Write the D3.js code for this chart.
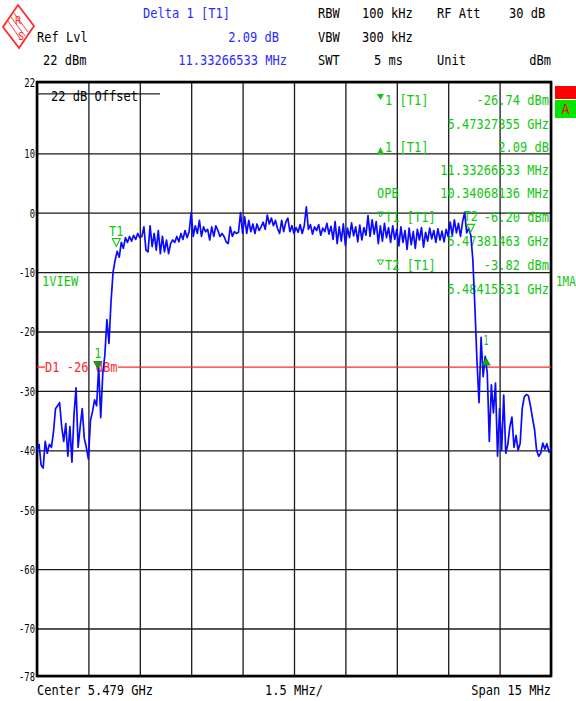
<!DOCTYPE html>
<html>
<head>
<meta charset="utf-8">
<script src="https://cdn.jsdelivr.net/npm/d3@7"></script>
<style>
  body { margin: 0; background: #fff; }
  text { font-family: "DejaVu Sans Mono", "Liberation Mono", monospace; }
</style>
</head>
<body>
<div id="graphic"></div>
<script>
// Sweep settings (MHz relative to centre)
var CENTER_GHZ = 5.479;
var SPAN_MHZ = 15;
var TRACE_START = -7.5;
var TRACE_STEP = 0.06;

// Level axis
var Y_TICKS = [22, 10, 0, -10, -20, -30, -40, -50, -60, -70, -78];
var X_DIVS = [-7.5, -6, -4.5, -3, -1.5, 0, 1.5, 3, 4.5, 6, 7.5];
var DISPLAY_LINE = -26;

// Trace, dBm, one value every TRACE_STEP MHz
var TRACE_DBM = [
	-40, -39, -42.5, -43, -38.5, -40.5, -39, -39.5, -37, -33,
	-32.5, -32, -36, -38.5, -35.5, -41, -36, -42, -34, -29.5,
	-39.5, -36, -33, -38, -39.5, -41.5, -35, -33.5, -31.5, -32.5,
	-26, -34.5, -27, -24, -18, -22, -15, -10, -8, -6.5,
	-7.5, -5, -6, -4.2, -5, -4, -4.8, -3.8, -4.5, -3.5,
	-4.2,
	-4, -2.4, -6.3, -6.6, -2.2, -5.7, -3.5, -6.3, -3, -6.9,
	-4, -6.6, -4.6, -6.9, -5.2, -4.6, -5, -4, -4.9, -3.5,
	-4.5, -3, -4.2, -3.2, 0, -4, -2.2, -3.5, -1.3, -4,
	-2.4, -3.2, -2.8, -4.6, -2.4, -4, -2.2, -3, -4, -3.5,
	-4, -4.9, -5.2, -2.4, -4, -3.2, -3.5, -3.3, 0, -3.5,
	-0.7, -3.5, -1.3, -3.2, -1.9, -3.5, -1.9, -3, -2.4, -1.6,
	-2.8, -0.4, -1.9, -0.9, -2.2, -1.3, -2.7, -3.5, -1.3, -3.2,
	-1.6, -0.9, -3.2, -2.2, -3.5,
	-2.5, -3.3, -2, -3.5, -2.2, 1, -2.8, -2, -3.6, -2.4,
	-3, -2, -3.8, -2.6, -3.2, -1.8, -3.6, -2.3, -4.5, -1.5,
	-5.2, -2.4, -4.8, -1.9, -5.5, -2.6, -4.2, -1.7, -3.9, -2.4,
	-4.9, -2.1, -4.6, -2.5, -3.8, -0.5, -4, -1.2, -3.6, -1.5,
	-5.2, -2.2, -4.8, -1.8, -4.2, -2.5, -5, -2.2, -4.5, -2.8,
	-5.6, -2.4, -5, -3, -6.2, -2.6, -5.4, -3.2, -6, -2.8,
	-4.6, -2.5, -5.8, -3.3, -4.8, -2.6, -4.4, -3, -5, -2.7,
	-4.6, -3.1, -4.9, -2.8, -4, -1.6, -3.8, -1.2, -3.4, -1.8,
	-4, -1.5, 0, -3.4, -2.6, -3.8, -8, -16, -25, -32,
	-21, -27.6, -24.2, -27, -38.5, -29, -33.7, -28.7, -41, -33,
	-40, -30.7, -40.5, -39, -36, -34.4, -39.5, -37.5, -40, -38.8,
	-33, -31, -30.6, -30.8, -32.5, -34.6, -36.5, -40, -41, -40.5,
	-38.8, -39.8, -38.9, -40.3, -39.8
];

// Markers (MHz from centre, dBm)
var MARKER_LABELS = ['1', '1', 'T1', 'T2'];
var MARKER_MHZ = [-5.72645, 5.60621, -5.18537, 5.15531];
var MARKER_DBM = [-26.74, -24.65, -6.20, -3.82];
var MARKER_KIND = ['down', 'up', 'open', 'open'];

// Marker readout table
var READOUT_LEFT = ['1 [T1]', '', '1 [T1]', '', 'OPB', 'T1 [T1]', '', 'T2 [T1]', ''];
var READOUT_RIGHT = ['-26.74 dBm', '5.47327355 GHz', '2.09 dB', '11.33266533 MHz',
	'10.34068136 MHz', '-6.20 dBm', '5.47381463 GHz', '-3.82 dBm', '5.48415531 GHz'];
var READOUT_ICON = ['down', '', 'up', '', '', 'open', '', 'open', ''];

var GREEN = '#12c812';
var BLUE = '#2b2bff';
var RED = '#ff2a2a';

var margins = { top: 82, right: 25, bottom: 25, left: 37 };
var width = 576, height = 701;
var plotW = width - margins.left - margins.right;
var plotH = height - margins.top - margins.bottom;

var svg = d3.select('#graphic').append('svg')
	.attr('width', width)
	.attr('height', height)
	.style('background', '#fff');

function label(sel, x, y, s, opt) {
	opt = opt || {};
	return sel.append('text')
		.attr('transform', 'translate(' + x + ',' + y + ') scale(' + (opt.sx || 0.86) + ',1)')
		.attr('text-anchor', opt.anchor || 'start')
		.attr('fill', opt.fill || '#000')
		.style('font-size', (opt.size || 14) + 'px')
		.text(s);
}

/*
 * Header
 */
var logo = svg.append('g').attr('class', 'logo');
logo.append('polygon')
	.attr('points', '18,5 34,26 19,48 3,27')
	.attr('fill', 'none').attr('stroke', RED).attr('stroke-width', 1.8);
[[8, 21, 21, 40], [11, 17, 25, 36], [14, 13, 28, 32]].forEach(function(p) {
	logo.append('line').attr('x1', p[0]).attr('y1', p[1]).attr('x2', p[2]).attr('y2', p[3])
		.attr('stroke', RED).attr('stroke-width', 0.9);
});
label(logo, 15, 24, 'R', { fill: RED, size: 10, sx: 1 });
label(logo, 18, 40, 'S', { fill: RED, size: 10, sx: 1 });

label(svg, 143, 18, 'Delta 1 [T1]', { fill: BLUE });
label(svg, 37, 42, 'Ref Lvl');
label(svg, 279, 42, '2.09 dB', { fill: BLUE, anchor: 'end' });
label(svg, 43, 65, '22 dBm');
label(svg, 287, 65, '11.33266533 MHz', { fill: BLUE, anchor: 'end' });

label(svg, 318, 18, 'RBW');
label(svg, 362, 18, '100 kHz');
label(svg, 437, 18, 'RF Att');
label(svg, 509, 18, '30 dB');
label(svg, 318, 42, 'VBW');
label(svg, 362, 42, '300 kHz');
label(svg, 318, 65, 'SWT');
label(svg, 403, 65, '5 ms', { anchor: 'end' });
label(svg, 437, 65, 'Unit');
label(svg, 551, 65, 'dBm', { anchor: 'end' });

/*
 * Scales, grid
 */
var xScale = d3.scaleLinear()
	.domain([TRACE_START, TRACE_START + SPAN_MHZ])
	.range([margins.left, margins.left + plotW]);

var yScale = d3.scaleLinear()
	.domain([-78, 22])
	.range([margins.top + plotH, margins.top]);

svg.append('g')
	.attr('class', 'y grid')
	.attr('transform', 'translate(' + margins.left + ',0)')
	.call(d3.axisLeft(yScale).tickValues(Y_TICKS).tickSize(-plotW).tickFormat(''));

svg.append('g')
	.attr('class', 'x grid')
	.attr('transform', 'translate(0,' + (margins.top + plotH) + ')')
	.call(d3.axisBottom(xScale).tickValues(X_DIVS).tickSize(-plotH).tickFormat(''));

svg.selectAll('.grid .domain').remove();
svg.selectAll('.grid line').attr('stroke', '#1a1a1a').attr('stroke-width', 1.3);

svg.append('rect')
	.attr('x', margins.left).attr('y', margins.top)
	.attr('width', plotW).attr('height', plotH)
	.attr('fill', 'none').attr('stroke', '#000').attr('stroke-width', 2.6);

Y_TICKS.forEach(function(v) {
	label(svg, 35, yScale(v) + 5, String(v), { anchor: 'end', size: 13, sx: 0.68 });
});

// offset indicator
svg.append('line')
	.attr('x1', margins.left).attr('x2', 160)
	.attr('y1', yScale(20)).attr('y2', yScale(20))
	.attr('stroke', '#222').attr('stroke-width', 1.4);
label(svg, 51, 101, '22 dB Offset');

label(svg, 42, 286, '1VIEW', { fill: GREEN });
label(svg, 556, 286, '1MA', { fill: GREEN, sx: 0.78 });

svg.append('rect').attr('x', 555).attr('y', 86).attr('width', 21).attr('height', 13).attr('fill', '#ff0000');
svg.append('rect').attr('x', 555).attr('y', 100).attr('width', 21).attr('height', 18).attr('fill', '#00e600');
label(svg, 565.5, 114, 'A', { fill: '#ff0000', anchor: 'middle', sx: 1 });

/*
 * Display line D1
 */
var dY = yScale(DISPLAY_LINE);
svg.append('line').attr('x1', margins.left).attr('x2', 45).attr('y1', dY).attr('y2', dY)
	.attr('stroke', RED).attr('stroke-width', 1.3);
svg.append('line').attr('x1', 118).attr('x2', margins.left + plotW).attr('y1', dY).attr('y2', dY)
	.attr('stroke', RED).attr('stroke-width', 1.3);
label(svg, 45, dY + 5, 'D1 -26 dBm', { fill: RED });

/*
 * Marker readout table
 */
var rowY = [100, 124, 147, 170, 193, 217, 241, 265, 289];
rowY.forEach(function(cy, i) {
	var left = READOUT_LEFT[i];
	if (left) label(svg, left === 'OPB' ? 377 : 385, cy + 5, left, { fill: GREEN });
	label(svg, 549, cy + 5, READOUT_RIGHT[i], { fill: GREEN, anchor: 'end' });
	var k = READOUT_ICON[i];
	if (k === 'down') {
		svg.append('path').attr('d', 'M377,' + (cy - 6) + 'h7l-3.5,6z').attr('fill', GREEN);
	} else if (k === 'up') {
		svg.append('path').attr('d', 'M377,' + (cy + 7) + 'h7l-3.5,-7z').attr('fill', GREEN);
	} else if (k === 'open') {
		svg.append('path').attr('d', 'M377.5,' + (cy - 5) + 'h6l-3,5z')
			.attr('fill', 'none').attr('stroke', GREEN).attr('stroke-width', 1);
	}
});

/*
 * Trace
 */
var traceLine = d3.line()
	.x(function(d, i) { return xScale(TRACE_START + i * TRACE_STEP); })
	.y(function(d) { return yScale(d); });

svg.append('path')
	.datum(TRACE_DBM)
	.attr('class', 'trace')
	.attr('d', traceLine)
	.attr('fill', 'none')
	.attr('stroke', '#0a0aff')
	.attr('stroke-width', 1.7)
	.attr('stroke-linejoin', 'round');

/*
 * Markers on trace
 */
MARKER_LABELS.forEach(function(name, i) {
	var cx = xScale(MARKER_MHZ[i]);
	var cy = yScale(MARKER_DBM[i]);
	var kind = MARKER_KIND[i];
	if (kind === 'down') {
		svg.append('path').attr('d', 'M' + (cx - 4) + ',' + (cy - 10) + 'h8l-4,7z')
			.attr('fill', '#10a010').attr('stroke', '#0a7a0a').attr('stroke-width', 0.8);
		label(svg, cx, cy - 14, name, { fill: GREEN, anchor: 'middle' });
	} else if (kind === 'up') {
		svg.append('path').attr('d', 'M' + (cx - 4) + ',' + (cy + 6) + 'h8l-4,-7z')
			.attr('fill', '#10b010').attr('stroke', '#0a8a0a').attr('stroke-width', 0.8);
		label(svg, cx, cy - 14, name, { fill: GREEN, anchor: 'middle', sx: 0.6 });
	} else {
		svg.append('path').attr('d', 'M' + (cx - 4) + ',' + (cy - 11) + 'h8l-4,8z')
			.attr('fill', 'none').attr('stroke', GREEN).attr('stroke-width', 1.1);
		label(svg, cx, cy - 14, name, { fill: GREEN, anchor: 'middle' });
	}
});

/*
 * Footer
 */
label(svg, 37, 695, 'Center ' + CENTER_GHZ + ' GHz');
label(svg, 265, 695, '1.5 MHz/');
label(svg, 551, 695, 'Span ' + SPAN_MHZ + ' MHz', { anchor: 'end' });
</script>
</body>
</html>
